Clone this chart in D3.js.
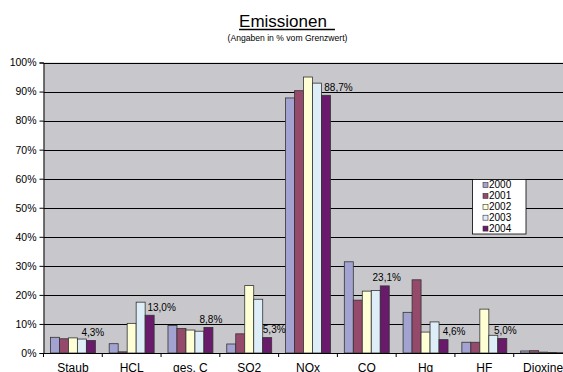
<!DOCTYPE html>
<html>
<head>
<meta charset="utf-8">
<script src="https://cdn.jsdelivr.net/npm/d3@7"></script>
<style>
  html, body { margin: 0; padding: 0; background: #fff; overflow: hidden; }
  svg { display: block; font-family: "Liberation Sans", Arial, sans-serif; }
</style>
</head>
<body>
<svg id="chart" width="563" height="372"></svg>
<script>
// ---- data ----
const categories = ["Staub", "HCL", "ges. C", "SO2", "NOx", "CO", "Hg", "HF", "Dioxine"];
const years = ["2000", "2001", "2002", "2003", "2004"];
const v2000 = [5.4, 3.2, 9.5, 3.1, 87.8, 31.4, 14.0, 3.7, 0.7];
const v2001 = [4.9, 0.4, 8.4, 6.6, 90.3, 18.2, 25.2, 3.7, 0.8];
const v2002 = [5.2, 10.2, 7.9, 23.2, 95.0, 21.3, 7.2, 15.1, 0.3];
const v2003 = [4.8, 17.5, 7.5, 18.5, 92.9, 21.5, 10.7, 6.1, 0.2];
const v2004 = [4.3, 13.0, 8.8, 5.3, 88.7, 23.1, 4.6, 5.0, 0.1];
const seriesValues = [v2000, v2001, v2002, v2003, v2004];
const labelTexts = ["4,3%", "13,0%", "8,8%", "5,3%", "88,7%", "23,1%", "4,6%", "5,0%", null];
const yTicks = [0, 10, 20, 30, 40, 50, 60, 70, 80, 90, 100];
const titleText = "Emissionen";
const subtitleText = "(Angaben in % vom Grenzwert)";

// ---- style ----
const colors = ["#a3a3d1", "#954a6c", "#ffffd6", "#ddeef9", "#6a1a6a"];
const labelShift = [2, 12, 2.5, 7, 12.5, 2, 10.5, 3, 0];

const svg = d3.select("#chart");

const x = d3.scaleBand().domain(categories).range([43.5, 572.5]).paddingInner(0).paddingOuter(0);
const xi = d3.scaleBand().domain(years).range([0, x.bandwidth()]).paddingInner(0).paddingOuter(0.77);
const y = d3.scaleLinear().domain([0, 100]).range([353, 62.5]);

// plot background
svg.append("rect")
  .attr("x", x.range()[0]).attr("y", y(100))
  .attr("width", x.range()[1] - x.range()[0]).attr("height", y(0) - y(100))
  .attr("fill", "#c8c8cc");

// gridlines
svg.append("g").selectAll("line").data(yTicks.filter(d => d > 0)).join("line")
  .attr("x1", x.range()[0]).attr("x2", 563)
  .attr("y1", d => Math.round(y(d)) + 0.5).attr("y2", d => Math.round(y(d)) + 0.5)
  .attr("stroke", "#000").attr("stroke-width", 1);

// bars
const flat = [];
seriesValues.forEach((arr, si) => arr.forEach((v, ci) => flat.push({ si, ci, v })));
svg.append("g").selectAll("rect").data(flat).join("rect")
  .attr("x", d => x(categories[d.ci]) + xi(years[d.si]))
  .attr("y", d => y(d.v))
  .attr("width", xi.bandwidth())
  .attr("height", d => y(0) - y(d.v))
  .attr("fill", d => colors[d.si])
  .attr("stroke", "#333").attr("stroke-width", 0.8);

// y axis
const yAxis = d3.axisLeft(y).tickValues(yTicks).tickFormat(d => d + "%").tickSize(4).tickPadding(3);
const gy = svg.append("g").attr("transform", `translate(${x.range()[0]},0)`).call(yAxis);
gy.select(".domain").attr("stroke", "#000");
gy.selectAll("text").attr("font-size", "10.5px").attr("fill", "#000").attr("font-family", "Liberation Sans, Arial, sans-serif");

// x axis
const xAxis = d3.axisBottom(x).tickSize(4).tickPadding(6).tickSizeOuter(0);
const gx = svg.append("g").attr("transform", `translate(0,${y(0)})`).call(xAxis);
gx.select(".domain").attr("stroke", "#000");
gx.selectAll(".tick line").attr("transform", d => `translate(${-x.bandwidth() / 2},0)`);
gx.selectAll("text").attr("font-size", "12px").attr("fill", "#000").attr("dy", "0.71em")
  .attr("font-family", "Liberation Sans, Arial, sans-serif");

// data labels (2004 series)
svg.append("g").selectAll("text").data(v2004.map((v, i) => ({ v, i })).filter(d => labelTexts[d.i]))
  .join("text")
  .attr("x", d => x(categories[d.i]) + xi("2004") + xi.bandwidth() / 2 + labelShift[d.i])
  .attr("y", d => y(d.v) - 4.5)
  .attr("text-anchor", "middle")
  .attr("font-size", "10px")
  .attr("fill", "#000")
  .text(d => labelTexts[d.i]);

// title
const title = svg.append("text").attr("x", 283).attr("y", 27).attr("text-anchor", "middle")
  .attr("font-size", "17px").attr("fill", "#000").text(titleText);
const tb = title.node().getBBox();
svg.append("line").attr("x1", tb.x).attr("x2", tb.x + tb.width + 8)
  .attr("y1", 29.5).attr("y2", 29.5).attr("stroke", "#000").attr("stroke-width", 1.3);
svg.append("text").attr("x", 287.5).attr("y", 40.5).attr("text-anchor", "middle")
  .attr("font-size", "8.6px").attr("fill", "#000").text(subtitleText);

// legend
const lg = svg.append("g").attr("transform", "translate(472.5,179.5)");
lg.append("rect").attr("width", 53.5).attr("height", 54.5).attr("fill", "#fff").attr("stroke", "#000").attr("stroke-width", 0.8);
const li = lg.selectAll("g").data(years).join("g")
  .attr("transform", (d, i) => `translate(0,${i * 10.9})`);
li.append("rect").attr("x", 10.5).attr("y", 3).attr("width", 5).attr("height", 5)
  .attr("fill", (d, i) => colors[i]).attr("stroke", "#333").attr("stroke-width", 0.6);
li.append("text").attr("x", 16.5).attr("y", 8.7).attr("font-size", "10px").attr("fill", "#000").text(d => d);
</script>
</body>
</html>
